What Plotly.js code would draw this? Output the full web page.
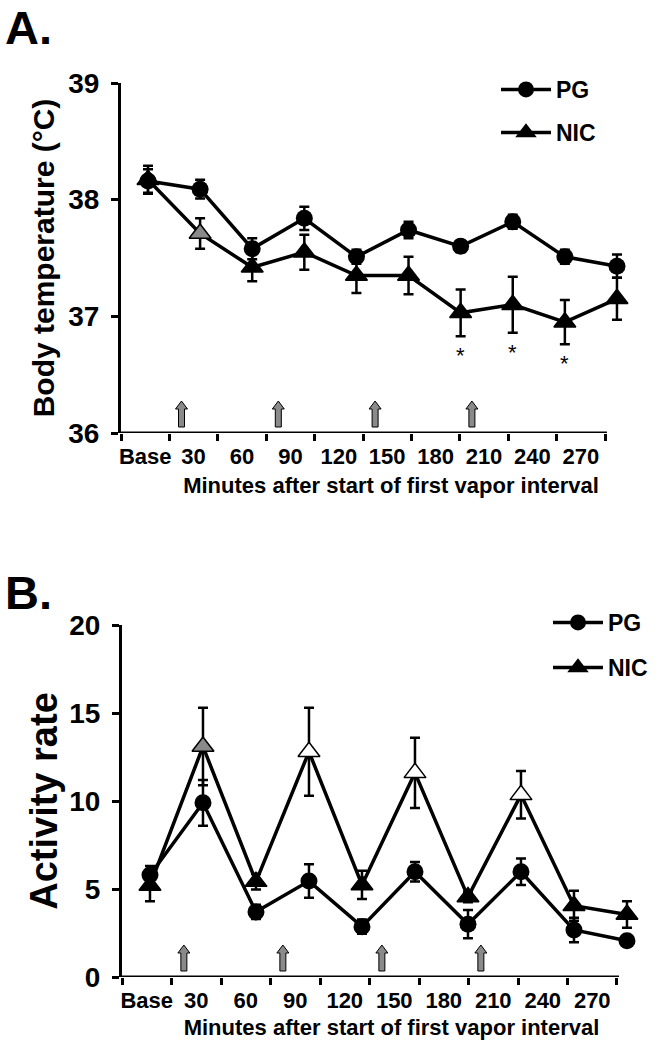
<!DOCTYPE html>
<html><head><meta charset="utf-8">
<script src="https://cdn.plot.ly/plotly-3.0.1.min.js"></script>
<style>html,body{margin:0;padding:0;background:#fff}</style>
</head><body><div id="chart" style="width:661px;height:1046px"></div>
<script>
// ---------- data ----------
const categories = ['Base','30','60','90','120','150','180','210','240','270'];
// Panel A: body temperature (°C), mean and SEM
const tempPG     = [38.16, 38.09, 37.58, 37.84, 37.51, 37.74, 37.60, 37.81, 37.51, 37.43];
const tempPGErr  = [0.10, 0.08, 0.09, 0.10, 0.06, 0.07, 0.05, 0.06, 0.06, 0.10];
const tempNIC    = [38.17, 37.71, 37.42, 37.55, 37.35, 37.35, 37.03, 37.10, 36.95, 37.15];
const tempNICErr = [0.12, 0.13, 0.12, 0.15, 0.15, 0.16, 0.20, 0.24, 0.19, 0.18];
const tempSig    = [false,false,false,false,false,false,true,true,true,false];
// Panel B: activity rate, mean and SEM
const actPG      = [5.8, 9.9, 3.7, 5.45, 2.86, 5.98, 3.0, 5.98, 2.67, 2.06];
const actPGErr   = [0.5, 1.3, 0.4, 0.95, 0.4, 0.55, 0.8, 0.75, 0.7, 0.3];
const actNIC     = [5.2, 13.1, 5.42, 12.8, 5.23, 11.6, 4.55, 10.35, 4.05, 3.55];
const actNICErr  = [0.9, 2.2, 0.45, 2.5, 0.8, 2.0, 0.3, 1.35, 0.85, 0.75];
const yTicksA = [36, 37, 38, 39];
const yTicksB = [0, 5, 10, 15, 20];
const vaporOnsets = [1.25, 3.25, 5.25, 7.25]; // vapor interval starts, in category-slot units
const xTitle = 'Minutes after start of first vapor interval';

// ---------- styles ----------
const nicFillA = ['#000','#8a8a8a','#000','#000','#000','#000','#000','#000','#000','#000'];
const nicFillB = ['#000','#8a8a8a','#000','#fff','#000','#fff','#000','#fff','#000','#000'];
const FONT = 'Liberation Sans, Arial, sans-serif';

function trace(name, xa, ya, y, err, symbol, fill, legend) {
  return {
    type: 'scatter', mode: 'lines+markers', name: name,
    x: categories, y: y, xaxis: xa, yaxis: ya, legend: legend,
    cliponaxis: false,
    line: {color: '#000', width: 3.5},
    marker: symbol === 'circle'
      ? {symbol: 'circle', size: 17, color: '#000', line: {width: 0}}
      : {symbol: 'triangle-up', size: 19, color: fill, line: {color: '#000', width: 1.5}},
    error_y: {type: 'data', array: err, visible: true, color: '#000', thickness: 2.5, width: 5}
  };
}

const traces = [
  trace('NIC', 'x', 'y', tempNIC, tempNICErr, 'triangle', nicFillA, 'legend2'),
  trace('PG',  'x', 'y', tempPG,  tempPGErr,  'circle',   null,     'legend'),
  trace('NIC', 'x3', 'y2', actNIC, actNICErr, 'triangle', nicFillB, 'legend4'),
  trace('PG',  'x3', 'y2', actPG,  actPGErr,  'circle',   null,     'legend3')
];

const slotTicks = categories.map((c, i) => i + 0.5);
const slotBounds = categories.map((c, i) => i).concat([categories.length]);

function dataAxis(domain, range, anchor) {
  return {domain: domain, range: range, type: 'category', anchor: anchor, fixedrange: true,
          showticklabels: false, ticks: '', showline: false, showgrid: false, zeroline: false};
}
function labelAxis(over, anchor, range, standoff) {
  return {
    overlaying: over, anchor: anchor, range: range, fixedrange: true,
    tickmode: 'array', tickvals: slotTicks, ticktext: categories, tickangle: 0,
    ticks: '', showline: false, showgrid: false, zeroline: false,
    tickfont: {family: FONT, size: 22, color: '#000', weight: 'bold'},
    ticklabelstandoff: 8,
    minor: {tickmode: 'array', tickvals: slotBounds, ticks: 'outside', ticklen: 7, tickwidth: 3, tickcolor: '#000', showgrid: false},
    title: {text: xTitle, standoff: standoff, font: {family: FONT, size: 22, color: '#000', weight: 'bold'}}
  };
}
function valueAxis(domain, range, tickvals, title, tsize, standoff, anchor) {
  return {
    domain: domain, range: range, fixedrange: true, anchor: anchor,
    tickmode: 'array', tickvals: tickvals,
    ticks: 'outside', ticklen: 7, tickwidth: 3, tickcolor: '#000',
    showline: true, linewidth: 3, linecolor: '#000',
    showgrid: false, zeroline: false,
    tickfont: {family: FONT, size: 28, color: '#000', weight: 'bold'},
    ticklabelstandoff: 6,
    title: {text: title, standoff: standoff, font: {family: FONT, size: tsize, color: '#000', weight: 'bold'}}
  };
}

const shapes = [];
[['x2', 'y', 36], ['x4', 'y2', 0]].forEach(([xa, ya, base]) => {
  shapes.push({type: 'line', xref: xa, yref: ya, x0: 0, x1: categories.length + 0.04, y0: base, y1: base,
               line: {color: '#000', width: 3}});
  vaporOnsets.forEach(v => shapes.push({
    type: 'path', xref: xa, yref: ya, xsizemode: 'pixel', ysizemode: 'pixel',
    xanchor: v, yanchor: base,
    path: 'M-3,6L3,6L3,24L6,24L0,32L-6,24L-3,24Z',
    fillcolor: '#8a8a8a', line: {color: '#000', width: 1}
  }));
});

const annotations = [
  {xref: 'paper', yref: 'paper', x: 0.006, y: 1, xanchor: 'left', yanchor: 'top', borderpad: 0,
   text: 'A.', showarrow: false, font: {family: FONT, size: 47, color: '#000', weight: 'bold'}},
  {xref: 'paper', yref: 'paper', x: 0.006, y: 1 - 565/1046, xanchor: 'left', yanchor: 'top', borderpad: 0,
   text: 'B.', showarrow: false, font: {family: FONT, size: 47, color: '#000', weight: 'bold'}}
];
categories.forEach((c, i) => {
  if (tempSig[i]) annotations.push({
    xref: 'x', yref: 'y', x: i, y: tempNIC[i] - tempNICErr[i], yanchor: 'top', yshift: -5,
    text: '*', showarrow: false, font: {family: FONT, size: 22, color: '#000'}
  });
});

function legendAt(xpx, ypx) {
  return {
    x: xpx/661, y: 1 - ypx/1046,
    font: {family: FONT, size: 23, color: '#000', weight: 'bold'},
    bgcolor: 'rgba(0,0,0,0)', borderwidth: 0, xanchor: 'left', yanchor: 'top',
    itemwidth: 50, itemclick: false, itemdoubleclick: false
  };
}

const xA = dataAxis([121/661, 1], [-0.518, 9.845], 'y');
const xB = dataAxis([122/661, 1], [-0.528, 9.642], 'y2');

const layout = {
  width: 661, height: 1046, margin: {l: 0, r: 0, t: 0, b: 0},
  paper_bgcolor: '#fff', plot_bgcolor: 'rgba(0,0,0,0)',
  showlegend: true,
  xaxis:  xA,
  xaxis2: labelAxis('x', 'y', [0, 11.157], 9),
  yaxis:  valueAxis([1 - 433/1046, 1 - 83/1046], [36, 39], yTicksA, 'Body temperature (°C)', 30, 5, 'x'),
  xaxis3: xB,
  xaxis4: labelAxis('x3', 'y2', [0, 10.889], 7),
  yaxis2: valueAxis([1 - 977/1046, 1 - 625/1046], [0, 20], yTicksB, 'Activity rate', 38, 0, 'x3'),
  legend:  legendAt(496, 68),
  legend2: legendAt(496, 111),
  legend3: legendAt(548, 601),
  legend4: legendAt(548, 646),
  shapes: shapes, annotations: annotations
};

Plotly.newPlot('chart', traces, layout, {displayModeBar: false, staticPlot: true});
</script></body></html>
